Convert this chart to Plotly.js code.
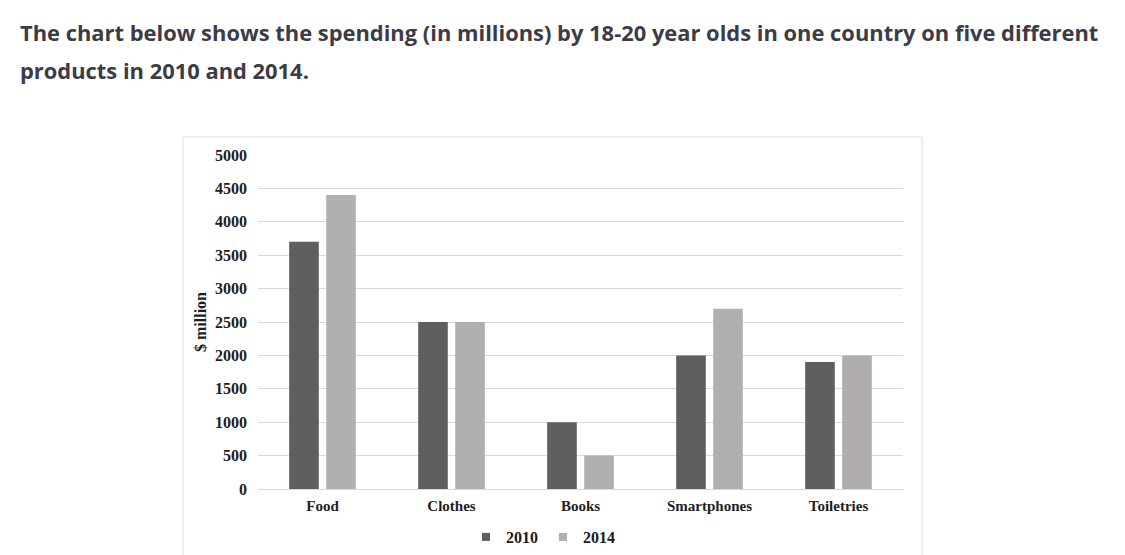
<!DOCTYPE html>
<html>
<head>
<meta charset="utf-8">
<script src="https://cdn.plot.ly/plotly-3.0.1.min.js"></script>
<style>html,body{margin:0;padding:0;background:#fff;}#chart{width:1125px;height:555px;}</style>
</head>
<body>
<div id="chart"></div>
<script>
const categories = ["Food", "Clothes", "Books", "Smartphones", "Toiletries"];
const values2010 = [3700, 2500, 1000, 2000, 1900];
const values2014 = [4400, 2500, 500, 2700, 2000];
const seriesNames = ["2010", "2014"];
const seriesColors = ["#5f5f5f", "#b0b0b0"];
const yTicks = [0, 500, 1000, 1500, 2000, 2500, 3000, 3500, 4000, 4500, 5000];
const titleLines = [
  "The chart below shows the spending (in millions) by 18-20 year olds in one country on five different",
  "products in 2010 and 2014."
];

const serif = "Liberation Serif, Times New Roman, serif";
const seriesValues = [values2010, values2014];
const barColors = [
  categories.map(() => seriesColors[0]),
  categories.map((c) => c === "Toiletries" ? "#b2adad" : seriesColors[1])
];
const traces = [];
seriesValues.forEach((vals, i) => {
  traces.push({type: "bar", name: seriesNames[i], x: categories, y: vals,
               marker: {color: barColors[i]}, showlegend: false, hoverinfo: "x+y"});
});
// legend entries with small square symbols
seriesValues.forEach((vals, i) => {
  traces.push({type: "scatter", mode: "markers", name: seriesNames[i], x: [null], y: [null],
               marker: {symbol: "square", size: 8, color: seriesColors[i]}, showlegend: true});
});

const layout = {
  width: 1125, height: 555,
  margin: {l: 258, r: 222, t: 155, b: 66},
  paper_bgcolor: "#ffffff", plot_bgcolor: "#ffffff",
  barmode: "group", bargap: 0.426, bargroupgap: 0.2,
  showlegend: true,
  legend: {orientation: "h", xref: "container", yref: "container",
           x: 543 / 1125, xanchor: "center", y: (555 - 537) / 555, yanchor: "middle",
           font: {family: serif, size: 16, color: "#1a1a1a", weight: "bold"},
           itemwidth: 30, traceorder: "normal", tracegroupgap: 0},
  font: {family: serif, size: 15, color: "#222"},
  xaxis: {
    type: "category", showgrid: false, zeroline: false,
    showline: true, linecolor: "#d9d9d9", linewidth: 1,
    ticks: "", ticklabelstandoff: 3,
    tickfont: {family: serif, size: 15, color: "#1e1e1e", weight: "bold"},
    fixedrange: true
  },
  yaxis: {
    range: [0, 5000], tickvals: yTicks, ticktext: yTicks.map(String),
    showgrid: true, gridcolor: "#d9d9d9", gridwidth: 1, zeroline: false,
    showline: false, ticks: "", ticklabelstandoff: 10,
    tickfont: {family: serif, size: 16, color: "#1e1e1e", weight: "bold"},
    title: {text: "$ million", font: {family: serif, size: 16, color: "#1e1e1e", weight: "bold"}, standoff: 4},
    fixedrange: true
  },
  shapes: [
    {type: "rect", xref: "paper", yref: "paper", x0: -0.1163, x1: 1.0295, y0: -0.25, y1: 1.054,
     line: {color: "#dedede", width: 1}, fillcolor: "rgba(0,0,0,0)", layer: "below"}
  ],
  annotations: [
    {xref: "paper", yref: "paper", x: -0.372, y: (489 - 33) / 334, xanchor: "left", yanchor: "middle", showarrow: false,
     text: titleLines[0], font: {family: "Open Sans, sans-serif", size: 21.9, color: "#3c3c46", weight: "bold"}},
    {xref: "paper", yref: "paper", x: -0.372, y: (489 - 70) / 334, xanchor: "left", yanchor: "middle", showarrow: false,
     text: titleLines[1], font: {family: "Open Sans, sans-serif", size: 21.9, color: "#3c3c46", weight: "bold"}}
  ]
};

Plotly.newPlot("chart", traces, layout, {displayModeBar: false, staticPlot: true});
</script>
</body>
</html>
